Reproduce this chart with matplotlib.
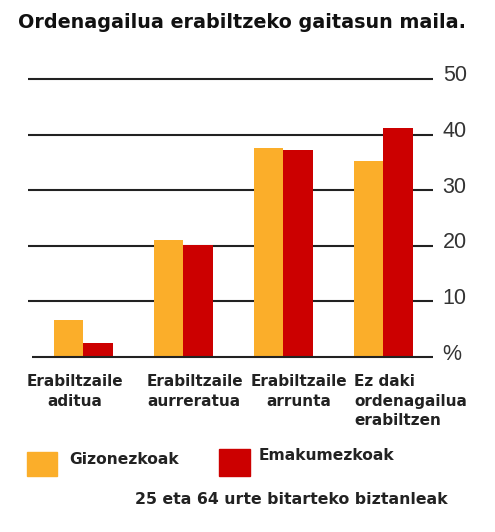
import matplotlib
matplotlib.use("Agg")
import matplotlib.pyplot as plt
from matplotlib.patches import Rectangle
from matplotlib.transforms import blended_transform_factory, ScaledTranslation
import numpy as np

title = "Ordenagailua erabiltzeko gaitasun maila."
categories = ["Erabiltzaile\naditua", "Erabiltzaile\naurreratua",
              "Erabiltzaile\narrunta", "Ez daki\nordenagailua\nerabiltzen"]
series_names = ["Gizonezkoak", "Emakumezkoak"]
gizonezkoak = [6.6, 21.0, 37.6, 35.2]
emakumezkoak = [2.6, 20.1, 37.2, 41.1]
yticks = [0, 10, 20, 30, 40, 50]
ytick_labels = ["%", "10", "20", "30", "40", "50"]
footnote = "25 eta 64 urte bitarteko biztanleak"

c_orange = "#FBAE2A"
c_red = "#CC0000"

fig = plt.figure(figsize=(4.95, 5.32), dpi=100)
W, H = 495, 532
ax = fig.add_axes([28 / W, 1 - 357 / H, (433 - 28) / W, (357 - 79) / H])

x = np.arange(len(categories))
bw = 0.295
ax.bar(x - bw / 2, gizonezkoak, bw, color=c_orange, zorder=3)
ax.bar(x + bw / 2, emakumezkoak, bw, color=c_red, zorder=3)

ax.set_xlim(-0.55, 3.5)
ax.set_ylim(0, 50)
for t in yticks[1:]:
    ax.hlines(t, -0.55, 3.5, color="#222222", lw=1.5, zorder=2, clip_on=False)
ax.hlines(0, -0.51, 3.5, color="#222222", lw=1.5, zorder=4, clip_on=False)

for s in ax.spines.values():
    s.set_visible(False)
ax.set_xticks([])
ax.yaxis.tick_right()
ax.set_yticks(yticks)
ax.set_yticklabels(ytick_labels, family="Liberation Sans", fontsize=15.5, color="#333333")
ax.tick_params(axis="y", length=0, pad=7)
shift = ScaledTranslation(0, 0.03, fig.dpi_scale_trans)
for lbl in ax.get_yticklabels():
    lbl.set_verticalalignment("center")
    lbl.set_transform(lbl.get_transform() + shift)

tr = blended_transform_factory(ax.transData, fig.transFigure)
lab_pos = [(-0.08, "center"), (0.64, "left"), (2.16, "center"), (2.71, "left")]
for (px, ha), lab in zip(lab_pos, categories):
    ax.text(px, 1 - 374 / H, lab, transform=tr, ha=ha, va="top",
            multialignment=ha, fontsize=11, fontweight="bold",
            family="DejaVu Sans", color="#222222", linespacing=1.38)

fig.text(18 / W, 1 - 22 / H, title, ha="left", va="center", fontsize=13.8,
         fontweight="bold", family="DejaVu Sans", color="#111111")

fig.patches.append(Rectangle((27 / W, 1 - 476 / H), 30 / W, 24 / H,
                             transform=fig.transFigure, color=c_orange))
fig.text(69 / W, 1 - 460 / H, series_names[0], ha="left", va="center",
         fontsize=11.2, fontweight="bold", family="DejaVu Sans", color="#222222")
fig.patches.append(Rectangle((219 / W, 1 - 476 / H), 31 / W, 27 / H,
                             transform=fig.transFigure, color=c_red))
fig.text(259 / W, 1 - 456 / H, series_names[1], ha="left", va="center",
         fontsize=11.2, fontweight="bold", family="DejaVu Sans", color="#222222")

fig.text(135 / W, 1 - 500 / H, footnote, ha="left", va="center",
         fontsize=11.3, fontweight="bold", family="DejaVu Sans", color="#222222")

fig.savefig("out.png", dpi=100)
